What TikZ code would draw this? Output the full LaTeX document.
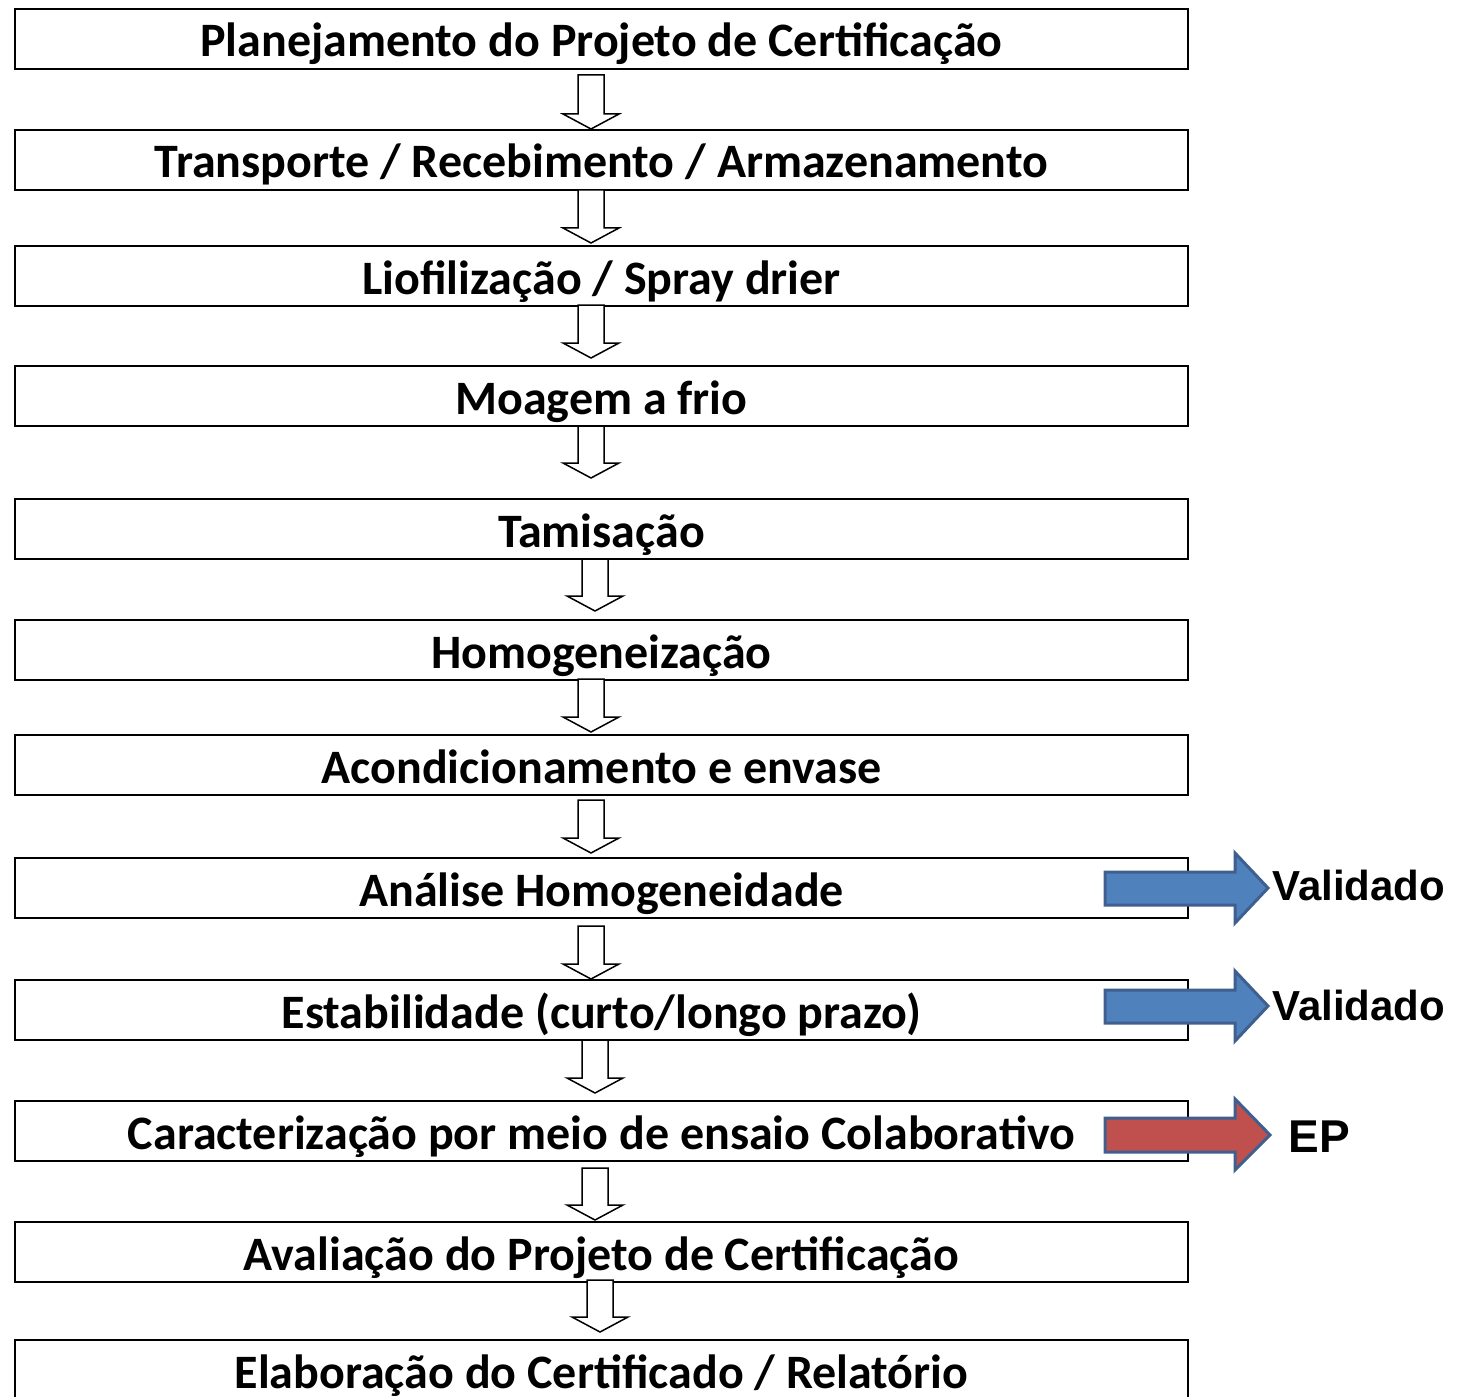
\documentclass[tikz,border=0pt]{standalone}
\usepackage{fontspec}
\setmainfont{Carlito}
\newfontfamily\arialfont{Liberation Sans}
\begin{document}
\begin{tikzpicture}[x=0.5pt,y=-0.5pt,
  stepbox/.style={draw=black,line width=1pt,rectangle,inner sep=0pt,
    minimum width=586.5pt,minimum height=30pt,text height=18pt,text depth=0pt,
    font=\fontsize{24}{28}\selectfont\bfseries},
  hollow/.style={draw=black,fill=white,line width=0.75pt,line join=miter},
  bigarrow/.style={line width=1.5pt,draw=arrowborder,line join=miter},
  sidelabel/.style={anchor=base west,inner sep=0pt,font=\arialfont\bfseries\fontsize{21}{25}\selectfont}]
\definecolor{arrowborder}{HTML}{3F5F8F}
\definecolor{bluefill}{HTML}{4F81BD}
\definecolor{redfill}{HTML}{C0504D}
\clip (0,0) rectangle (1465,1396);
\useasboundingbox (0,0) rectangle (1465,1396);
\newcommand\hollowdown[4]{% name, x center, shaft top, tip
  \coordinate (#1) at (#2,#4);
  \draw[hollow] (#2-13,#3) -- (#2+13,#3) -- (#2+13,#4-15) -- (#2+28,#4-15)
     -- (#1) -- (#2-28,#4-15) -- (#2-13,#4-15) -- cycle;}
\node[stepbox] (b1) at (601.5,39) {Planejamento do Projeto de Certificação};
\node[stepbox] (b2) at (601.5,160) {Transporte / Recebimento / Armazenamento};
\node[stepbox] (b3) at (601.5,276) {Liofilização / Spray drier};
\node[stepbox] (b4) at (601.5,396) {Moagem a frio};
\node[stepbox] (b5) at (601.5,529) {Tamisação};
\node[stepbox] (b6) at (601.5,650) {Homogeneização};
\node[stepbox] (b7) at (601.5,765) {Acondicionamento e envase};
\node[stepbox] (b8) at (601.5,888) {Análise Homogeneidade};
\node[stepbox] (b9) at (601.5,1010) {Estabilidade (curto/longo prazo)};
\node[stepbox] (b10) at (601.5,1131) {Caracterização por meio de ensaio Colaborativo};
\node[stepbox] (b11) at (601.5,1252) {Avaliação do Projeto de Certificação};
\node[stepbox] (b12) at (601.5,1370) {Elaboração do Certificado / Relatório};
\hollowdown{a1}{591}{75}{129}
\hollowdown{a2}{591}{190}{243}
\hollowdown{a3}{591}{305}{358}
\hollowdown{a4}{591}{426}{478}
\hollowdown{a5}{595}{559}{611}
\hollowdown{a6}{591}{679}{732}
\hollowdown{a7}{591}{800}{853}
\hollowdown{a8}{591}{926}{979}
\hollowdown{a9}{595}{1040}{1093}
\hollowdown{a10}{595}{1168}{1220}
\hollowdown{a11}{600}{1280}{1332}
% side arrows
\draw[bigarrow,fill=bluefill] (1105,872) -- (1235,872) -- (1235,853) -- (1268,888)
  -- (1235,923) -- (1235,905) -- (1105,905) -- cycle;
\draw[bigarrow,fill=bluefill] (1105,990) -- (1235,990) -- (1235,971) -- (1268,1006)
  -- (1235,1041) -- (1235,1023) -- (1105,1023) -- cycle;
\draw[bigarrow,fill=redfill] (1105,1118) -- (1235,1118) -- (1235,1099) -- (1270,1135)
  -- (1235,1170) -- (1235,1152) -- (1105,1152) -- cycle;
\node[sidelabel] (v1) at (1272,900) {Validado};
\node[sidelabel] (v2) at (1272,1020) {Validado};
\node[sidelabel,font=\arialfont\bfseries\fontsize{23}{27}\selectfont] (ep) at (1288,1152) {EP};
\end{tikzpicture}
\end{document}
